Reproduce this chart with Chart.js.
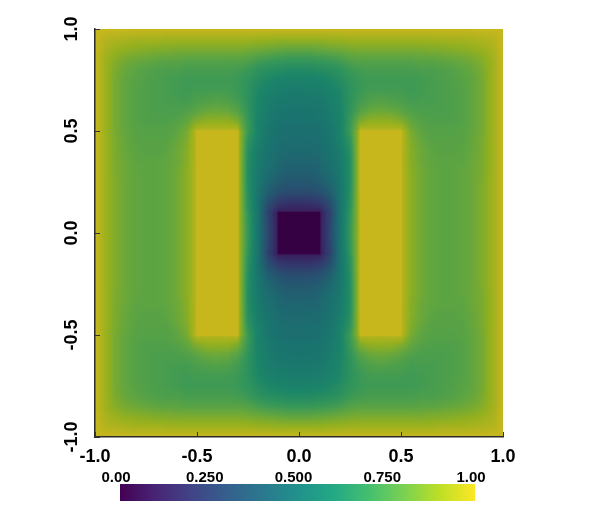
<!DOCTYPE html>
<html><head><meta charset="utf-8">
<script src="https://cdn.jsdelivr.net/npm/chart.js@4"></script>
<style>
html,body{margin:0;padding:0;background:#fff;}
#wrap{position:relative;width:598px;height:532px;overflow:hidden;}
#main{position:absolute;left:0;top:0;}
#bar{position:absolute;left:0;top:455px;}
</style></head><body>
<div id="wrap">
<canvas id="main" width="598" height="470"></canvas>
<canvas id="bar" width="598" height="55"></canvas>
</div>
<script>
// ---- tick values / labels ----
const xTickValues = [-1, -0.5, 0, 0.5, 1];
const xTickLabels = ['-1.0', '-0.5', '0.0', '0.5', '1.0'];
const yTickValues = [-1, -0.5, 0, 0.5, 1];
const yTickLabels = ['-1.0', '-0.5', '0.0', '0.5', '1.0'];
const barTickValues = [0, 0.25, 0.5, 0.75, 1];
const barTickLabels = ['0.00', '0.250', '0.500', '0.750', '1.00'];

// ---- field samples on the quadrant x in [0,1], y in [0,1] (field is mirror-symmetric) ----
const gridX = [0, 0.05, 0.1, 0.11, 0.15, 0.2, 0.25, 0.29, 0.3, 0.35, 0.4, 0.45, 0.5, 0.51, 0.55, 0.6, 0.65, 0.7, 0.75, 0.8, 0.85, 0.9, 0.95, 1];
const gridY = [1, 0.95, 0.9, 0.85, 0.8, 0.75, 0.7, 0.65, 0.6, 0.55, 0.51, 0.5, 0.45, 0.4, 0.35, 0.3, 0.25, 0.2, 0.15, 0.11, 0.1, 0.05, 0];
const quadrant = [
  [1,1,1,1,1,1,1,1,1,1,1,1,1,1,1,1,1,1,1,1,1,1,1,1],
  [.90,.90,.90,.90,.91,.91,.92,.92,.92,.92,.92,.92,.92,.92,.92,.92,.92,.93,.93,.93,.94,.95,.96,1],
  [.80,.80,.81,.81,.82,.83,.84,.85,.85,.85,.85,.85,.85,.85,.85,.85,.86,.86,.87,.88,.89,.91,.94,1],
  [.70,.70,.71,.71,.72,.74,.77,.78,.78,.78,.78,.78,.78,.78,.78,.79,.79,.80,.81,.82,.84,.87,.92,1],
  [.63,.63,.64,.64,.65,.67,.71,.73,.73,.74,.74,.74,.74,.74,.74,.75,.75,.76,.77,.79,.81,.85,.92,1],
  [.58,.58,.59,.59,.61,.64,.68,.70,.71,.72,.72,.72,.72,.72,.72,.73,.74,.75,.76,.78,.80,.84,.92,1],
  [.55,.55,.56,.56,.58,.61,.67,.70,.71,.73,.73,.73,.73,.73,.72,.73,.74,.75,.76,.77,.80,.84,.92,1],
  [.53,.53,.54,.54,.56,.60,.67,.72,.73,.76,.77,.76,.75,.75,.73,.74,.74,.75,.76,.77,.80,.84,.92,1],
  [.51,.51,.52,.52,.55,.59,.68,.75,.77,.81,.82,.81,.79,.78,.76,.75,.75,.75,.76,.77,.80,.84,.92,1],
  [.50,.50,.51,.51,.54,.58,.70,.82,.85,.89,.89,.89,.86,.85,.80,.77,.76,.76,.76,.77,.80,.84,.92,1],
  [.48,.48,.49,.50,.52,.58,.71,.86,.95,.95,.95,.95,.95,.92,.83,.79,.77,.77,.77,.78,.80,.84,.92,1],
  [.48,.48,.49,.50,.52,.58,.71,.90,1,1,1,1,1,.95,.84,.79,.77,.77,.77,.78,.80,.84,.92,1],
  [.47,.47,.48,.49,.51,.57,.67,.90,1,1,1,1,1,.95,.86,.81,.78,.78,.78,.78,.81,.85,.92,1],
  [.45,.45,.46,.48,.50,.55,.65,.90,1,1,1,1,1,.95,.87,.82,.79,.78,.78,.79,.81,.85,.92,1],
  [.43,.43,.44,.46,.49,.54,.64,.90,1,1,1,1,1,.95,.87,.82,.80,.79,.79,.79,.82,.85,.92,1],
  [.40,.40,.42,.44,.47,.53,.64,.90,1,1,1,1,1,.95,.88,.83,.80,.79,.79,.80,.82,.85,.92,1],
  [.36,.36,.38,.40,.44,.52,.64,.90,1,1,1,1,1,.95,.88,.83,.80,.79,.79,.80,.82,.86,.92,1],
  [.30,.30,.32,.34,.39,.51,.65,.90,1,1,1,1,1,.95,.88,.83,.80,.79,.79,.80,.82,.86,.92,1],
  [.19,.19,.22,.24,.31,.50,.66,.90,1,1,1,1,1,.95,.88,.83,.80,.79,.79,.80,.82,.86,.92,1],
  [.12,.12,.12,.15,.27,.50,.67,.90,1,1,1,1,1,.95,.88,.83,.80,.79,.79,.80,.82,.86,.92,1],
  [0,0,0,.12,.25,.50,.68,.90,1,1,1,1,1,.95,.88,.83,.80,.79,.79,.80,.82,.86,.92,1],
  [0,0,0,.12,.27,.50,.69,.90,1,1,1,1,1,.95,.88,.83,.80,.79,.79,.80,.82,.86,.92,1],
  [0,0,0,.12,.28,.50,.70,.90,1,1,1,1,1,.95,.88,.83,.80,.79,.79,.80,.82,.86,.92,1]
];

// ---- viridis colour scale ----
const viridisPos = [0, 0.1, 0.2, 0.3, 0.4, 0.5, 0.6, 0.7, 0.8, 0.9, 1];
const viridisRGB = [[68,1,84],[72,36,117],[65,68,135],[53,95,141],[42,120,142],[33,145,140],[34,168,132],[68,191,112],[122,209,81],[189,223,38],[253,231,37]];
const SHADE = 0.79;

function viridis(v) {
  v = Math.max(0, Math.min(1, v));
  let i = 0;
  while (i < viridisPos.length - 2 && v > viridisPos[i + 1]) i++;
  const t = (v - viridisPos[i]) / (viridisPos[i + 1] - viridisPos[i]);
  const a = viridisRGB[i], b = viridisRGB[i + 1];
  return [a[0] + (b[0] - a[0]) * t, a[1] + (b[1] - a[1]) * t, a[2] + (b[2] - a[2]) * t];
}

function sample(xv, yv) {
  const ax = Math.min(1, Math.abs(xv)), ay = Math.min(1, Math.abs(yv));
  let i = 0;
  while (i < gridX.length - 2 && ax > gridX[i + 1]) i++;
  let r = 0;
  while (r < gridY.length - 2 && ay < gridY[r + 1]) r++;
  const tx = (ax - gridX[i]) / (gridX[i + 1] - gridX[i]);
  const ty = (gridY[r] - ay) / (gridY[r] - gridY[r + 1]);
  const v00 = quadrant[r][i], v01 = quadrant[r][i + 1];
  const v10 = quadrant[r + 1][i], v11 = quadrant[r + 1][i + 1];
  return (v00 * (1 - tx) + v01 * tx) * (1 - ty) + (v10 * (1 - tx) + v11 * tx) * ty;
}

Chart.defaults.font.family = "'Liberation Sans', Arial, sans-serif";
Chart.defaults.color = '#000';

const heatPlugin = {
  id: 'heat',
  beforeDatasetsDraw(chart) {
    const {ctx, chartArea: a, scales: {x, y}} = chart;
    const L = Math.round(a.left), T = Math.round(a.top);
    const W = Math.round(a.right) - L, H = Math.round(a.bottom) - T;
    const img = ctx.createImageData(W, H);
    const d = img.data;
    for (let py = 0; py < H; py++) {
      const yv = y.getValueForPixel(T + py + 0.5);
      for (let px = 0; px < W; px++) {
        const xv = x.getValueForPixel(L + px + 0.5);
        const c = viridis(sample(xv, yv));
        const k = (py * W + px) * 4;
        d[k] = c[0] * SHADE; d[k + 1] = c[1] * SHADE; d[k + 2] = c[2] * SHADE; d[k + 3] = 255;
      }
    }
    ctx.putImageData(img, L, T);
  },
  afterDraw(chart) {
    const {ctx, chartArea: a, scales: {x, y}} = chart;
    ctx.save();
    ctx.strokeStyle = '#333';
    ctx.lineWidth = 1;
    xTickValues.forEach(v => {
      const px = Math.round(x.getPixelForValue(v)) + 0.5;
      ctx.beginPath(); ctx.moveTo(px, a.bottom); ctx.lineTo(px, a.bottom - 5); ctx.stroke();
    });
    yTickValues.forEach(v => {
      const py = Math.round(y.getPixelForValue(v)) + 0.5;
      ctx.beginPath(); ctx.moveTo(a.left, py); ctx.lineTo(a.left + 5, py); ctx.stroke();
    });
    ctx.fillStyle = '#000';
    ctx.font = "bold 18px 'Liberation Sans', Arial, sans-serif";
    ctx.textAlign = 'center';
    ctx.textBaseline = 'middle';
    yTickValues.forEach((v, i) => {
      const py = y.getPixelForValue(v);
      ctx.save();
      ctx.translate(72, py);
      ctx.rotate(-Math.PI / 2);
      ctx.fillText(yTickLabels[i], 0, 0);
      ctx.restore();
    });
    ctx.restore();
  }
};

new Chart(document.getElementById('main'), {
  type: 'scatter',
  data: { datasets: [{ data: [], pointRadius: 0 }] },
  options: {
    responsive: false, animation: false, devicePixelRatio: 1,
    layout: { padding: { left: 0, right: 95, top: 29, bottom: 0 } },
    plugins: { legend: { display: false }, tooltip: { enabled: false } },
    scales: {
      x: {
        type: 'linear', min: -1, max: 1,
        afterFit: s => { s.height = 33; },
        afterBuildTicks: s => { s.ticks = xTickValues.map(v => ({ value: v })); },
        grid: { display: false, drawTicks: false },
        border: { display: true, color: '#2a2a2a', width: 1.5, z: 1 },
        ticks: {
          callback: (val, idx) => xTickLabels[idx],
          font: { size: 18, weight: 'bold' }, color: '#000', padding: 9,
          maxRotation: 0, minRotation: 0, autoSkip: false
        }
      },
      y: {
        type: 'linear', min: -1, max: 1,
        afterFit: s => { s.width = 95; },
        afterBuildTicks: s => { s.ticks = yTickValues.map(v => ({ value: v })); },
        grid: { display: false, drawTicks: false },
        border: { display: true, color: '#2a2a2a', width: 1.5, z: 1 },
        ticks: { display: false }
      }
    }
  },
  plugins: [heatPlugin]
});

const barPlugin = {
  id: 'colorbar',
  beforeDatasetsDraw(chart) {
    const {ctx, chartArea: a, scales: {x}} = chart;
    const x0 = x.getPixelForValue(0), x1 = x.getPixelForValue(1);
    const g = ctx.createLinearGradient(x0, 0, x1, 0);
    viridisPos.forEach((p, i) => {
      const c = viridisRGB[i];
      g.addColorStop(p, `rgb(${c[0]},${c[1]},${c[2]})`);
    });
    ctx.save();
    ctx.fillStyle = g;
    ctx.fillRect(x0, a.top, x1 - x0, a.bottom - a.top);
    ctx.restore();
  }
};

new Chart(document.getElementById('bar'), {
  type: 'scatter',
  data: { datasets: [{ data: [], pointRadius: 0 }] },
  options: {
    responsive: false, animation: false, devicePixelRatio: 1,
    layout: { padding: { left: 120, right: 123, top: 0, bottom: 9 } },
    plugins: { legend: { display: false }, tooltip: { enabled: false } },
    scales: {
      x: {
        type: 'linear', position: 'top', min: 0, max: 1,
        afterFit: s => { s.height = 29; },
        afterBuildTicks: s => { s.ticks = barTickValues.map(v => ({ value: v })); },
        grid: { display: false, drawTicks: false },
        border: { display: false },
        ticks: {
          callback: (val, idx) => barTickLabels[idx],
          font: { size: 15, weight: 'bold' }, color: '#000', padding: -3,
          labelOffset: -4, maxRotation: 0, minRotation: 0, autoSkip: false
        }
      },
      y: { display: false, min: 0, max: 1 }
    }
  },
  plugins: [barPlugin]
});
</script>
</body></html>
